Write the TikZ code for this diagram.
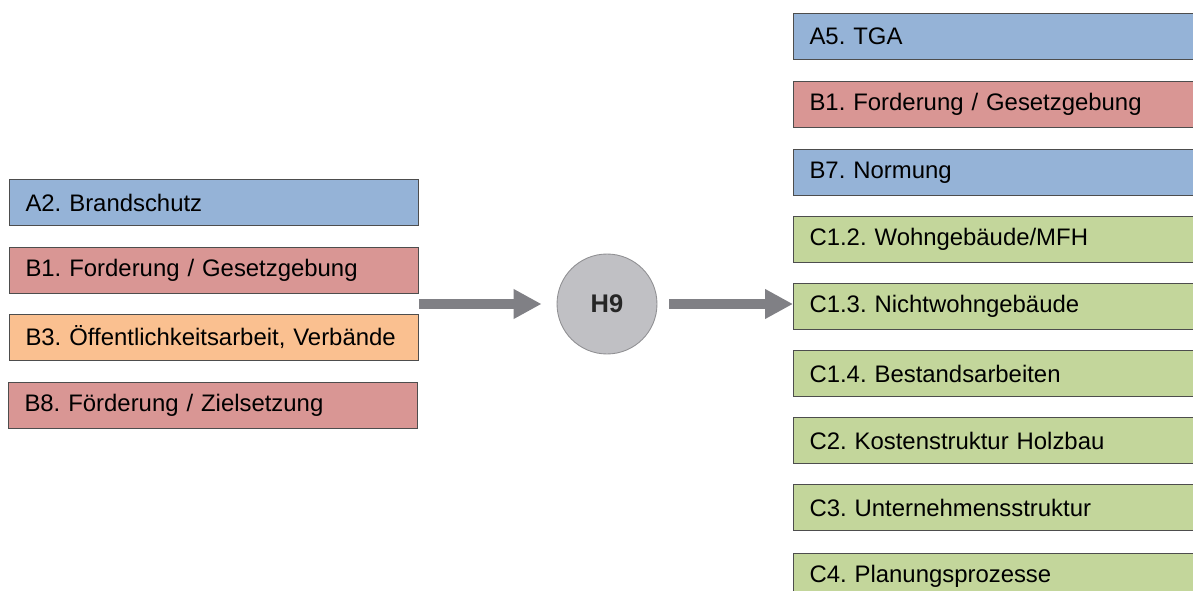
\documentclass[tikz,border=0pt]{standalone}
\usepackage{fontspec}
\setmainfont{Liberation Sans}
\usetikzlibrary{arrows.meta}
\definecolor{hzBlue}{HTML}{95B3D7}
\definecolor{hzRed}{HTML}{D99694}
\definecolor{hzOrange}{HTML}{FAC090}
\definecolor{hzGreen}{HTML}{C3D69B}
\definecolor{hzLine}{HTML}{4D4D4D}
\definecolor{hzGrey}{HTML}{C0C0C4}
\definecolor{hzArrow}{HTML}{808085}
\frenchspacing
\begin{document}
\begin{tikzpicture}[x=0.02cm, y=-0.02cm, topic/.style={draw=hzLine, line width=0.6pt, anchor=north west, minimum width=8.18cm, minimum height=0.92cm, inner xsep=0.32cm, inner ysep=0pt, text width=7.54cm, align=left, font=\fontsize{13.6}{15}\selectfont}, hub/.style={circle, draw=hzGrey!75!black, line width=0.5pt, fill=hzGrey, minimum size=2cm, inner sep=0pt, font=\bfseries\fontsize{14.5}{16}\selectfont, text=black!85}, blockarrow/.style={-{Triangle[length=0.56cm, width=0.56cm]}, line width=0.2cm, hzArrow}]
\useasboundingbox (0,0) rectangle (1193,591);
% inputs
\node[topic, fill=hzBlue] (a2) at (9,179) {A2. Brandschutz};
\node[topic, fill=hzRed] (b1l) at (9,247) {B1. Forderung / Gesetzgebung};
\node[topic, fill=hzOrange] (b3) at (9,314) {B3. Öffentlichkeitsarbeit, Verbände};
\node[topic, fill=hzRed] (b8) at (8,382) {B8. Förderung / Zielsetzung};
% hub
\node[hub] (h9) at (607,304) {H9};
% outputs
\node[topic, fill=hzBlue] (a5) at (793,13) {A5. TGA};
\node[topic, fill=hzRed] (b1r) at (793,81) {B1. Forderung / Gesetzgebung};
\node[topic, fill=hzBlue] (b7) at (793,149) {B7. Normung};
\node[topic, fill=hzGreen] (c12) at (793,216) {C1.2. Wohngebäude/MFH};
\node[topic, fill=hzGreen] (c13) at (793,283) {C1.3. Nichtwohngebäude};
\node[topic, fill=hzGreen] (c14) at (793,350) {C1.4. Bestandsarbeiten};
\node[topic, fill=hzGreen] (c2) at (793,417) {C2. Kostenstruktur Holzbau};
\node[topic, fill=hzGreen] (c3) at (793,484) {C3. Unternehmensstruktur};
\node[topic, fill=hzGreen] (c4) at (793,553) {C4. Planungsprozesse};
% arrows
\draw[blockarrow, shorten >=15*0.02cm] (b1l.east |- h9.west) -- (h9.west);
\draw[blockarrow, shorten <=12*0.02cm] (h9.east) -- (c13.west |- h9.east);
\end{tikzpicture}
\end{document}
